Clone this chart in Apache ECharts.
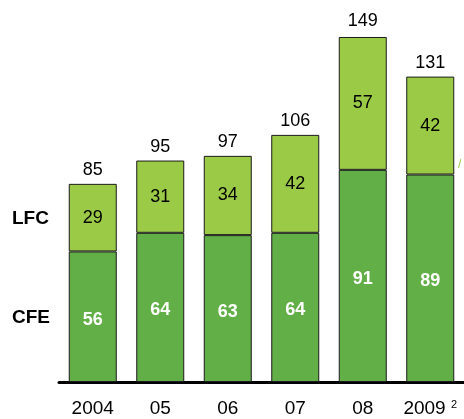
<!DOCTYPE html>
<html>
<head>
<meta charset="utf-8">
<script src="https://cdn.jsdelivr.net/npm/echarts@6/dist/echarts.min.js"></script>
<style>
  html, body { margin: 0; padding: 0; background: #fff; }
  #chart { width: 464px; height: 419px; }
</style>
</head>
<body>
<div id="chart"></div>
<script>
var years = ['2004', '05', '06', '07', '08', '2009'];
var cfe = [56, 64, 63, 64, 91, 89];
var lfc = [29, 31, 34, 42, 57, 42];
var totals = [85, 95, 97, 106, 149, 131];
var rowNames = ['LFC', 'CFE'];

var font = 'Liberation Sans, Arial, Helvetica, sans-serif';
var chart = echarts.init(document.getElementById('chart'));

var option = {
    animation: false,
    backgroundColor: '#ffffff',
    grid: { left: 59, right: 0, top: 9, bottom: 37 },
    xAxis: {
        type: 'category',
        data: years,
        axisLine: { lineStyle: { color: '#000', width: 3 } },
        axisTick: { show: false },
        axisLabel: {
            interval: 0,
            color: '#000',
            fontSize: 19,
            fontFamily: font,
            margin: 17,
            formatter: function (v) {
                return v === '2009' ? v + ' {sup|2}' : v;
            },
            rich: { sup: { fontSize: 11, verticalAlign: 'top', padding: [0, 0, 9, 0], color: '#000' } }
        }
    },
    yAxis: {
        type: 'value',
        min: 0,
        max: 160,
        show: false,
        splitLine: { show: false }
    },
    series: [{
        name: 'CFE',
        type: 'bar',
        stack: 'all',
        data: cfe,
        barWidth: 48,
        itemStyle: { color: '#63AF47', borderColor: '#1a1a1a', borderWidth: 1 },
        label: {
            show: true,
            position: 'inside',
            offset: [0, 3],
            color: '#fff',
            fontWeight: 'bold',
            fontSize: 18,
            fontFamily: font
        }
    }, {
        name: 'LFC',
        type: 'bar',
        stack: 'all',
        data: lfc,
        barWidth: 48,
        itemStyle: { color: '#9BCA47', borderColor: '#1a1a1a', borderWidth: 1 },
        label: {
            show: true,
            position: 'inside',
            color: '#000',
            fontSize: 18,
            fontFamily: font
        }
    }, {
        name: 'total',
        type: 'bar',
        data: totals,
        barWidth: 48,
        barGap: '-100%',
        z: 0,
        itemStyle: { color: 'rgba(0,0,0,0)' },
        label: {
            show: true,
            position: 'top',
            distance: 5,
            color: '#000',
            fontSize: 18,
            fontFamily: font
        }
    }]
};
chart.setOption(option);

// row names beside the first bar, centred on each segment
var mid = [cfe[0] + lfc[0] / 2, cfe[0] / 2];
var graphics = rowNames.map(function (name, i) {
    var p = chart.convertToPixel({ gridIndex: 0 }, [0, mid[i]]);
    return {
        type: 'text',
        x: 12,
        y: p[1] + 1,
        style: {
            text: name,
            font: 'bold 19px ' + font,
            fill: '#000',
            textVerticalAlign: 'middle'
        }
    };
});
graphics.push({
    type: 'text',
    x: 458,
    y: 165,
    style: { text: '/', font: '12px ' + font, fill: '#9BCA47', textVerticalAlign: 'middle' }
});
chart.setOption({ graphic: graphics });
</script>
</body>
</html>
